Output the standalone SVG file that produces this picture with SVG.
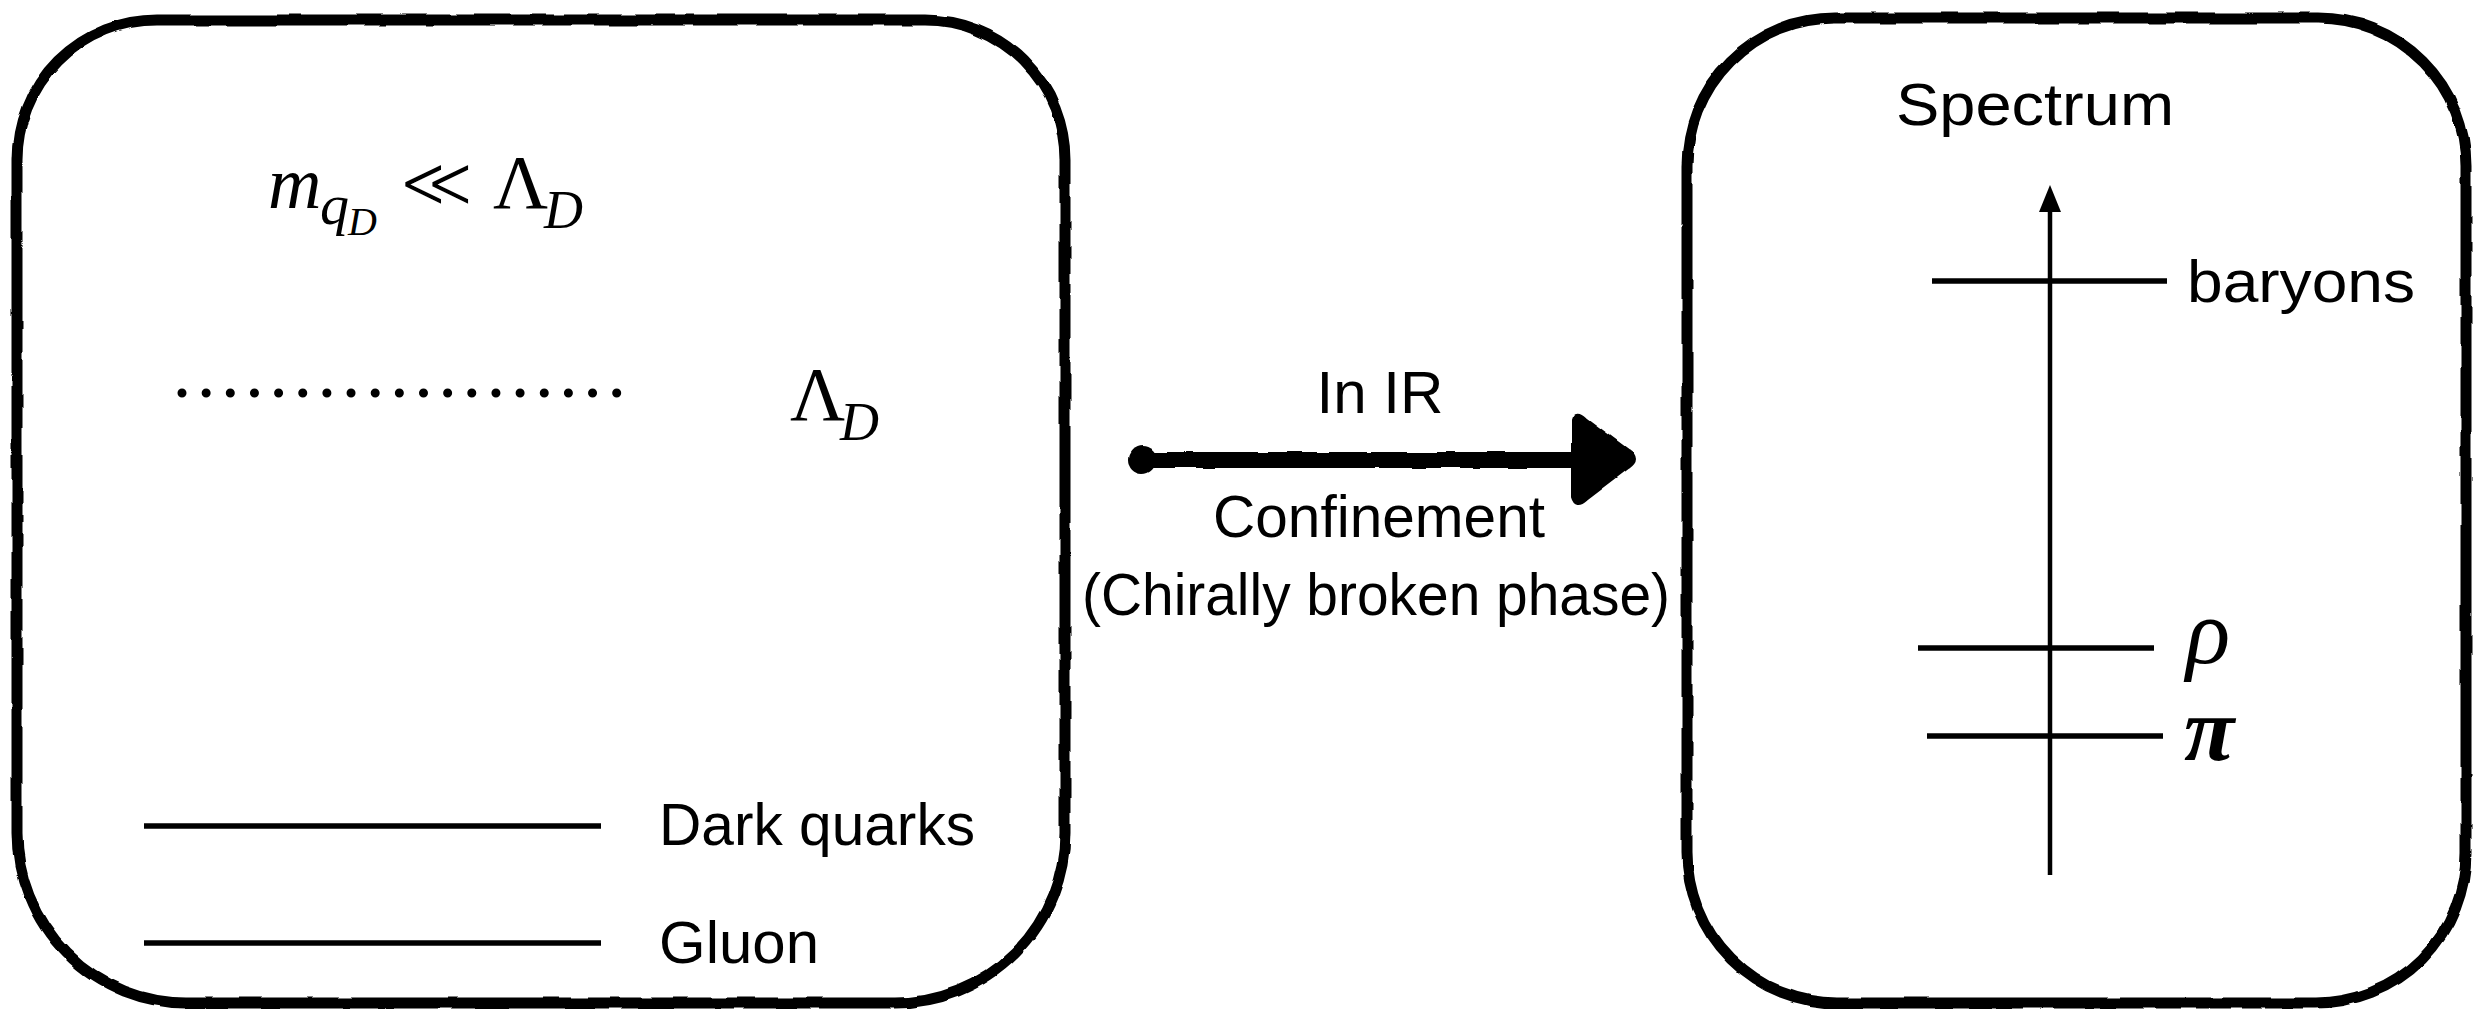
<svg xmlns="http://www.w3.org/2000/svg" width="2476" height="1009" viewBox="0 0 2476 1009">
  <style>
    .box { fill: none; stroke: #000; stroke-width: 11; stroke-linejoin: round; }
    .lvl { stroke: #000; stroke-width: 5.5; }
    .sans { font-family: "Liberation Sans", Arial, sans-serif; font-size: 60px; fill: #000; }
    .math { font-family: "Liberation Serif", "DejaVu Serif", serif; fill: #000; }
    .it { font-style: italic; }
  </style>
  <defs>
    <filter id="rough" x="-5%" y="-5%" width="110%" height="110%">
      <feTurbulence type="fractalNoise" baseFrequency="0.03" numOctaves="2" seed="3" result="n"/>
      <feDisplacementMap in="SourceGraphic" in2="n" scale="4" xChannelSelector="R" yChannelSelector="G"/>
    </filter>
  </defs>
  <rect width="2476" height="1009" fill="#fff"/>

  <g id="box-uv">
    <path class="box" filter="url(#rough)" d="M157,20 L925,20 A140,140 0 0 1 1065,160 L1065,833 A170,170 0 0 1 895,1003 L187,1003 A170,170 0 0 1 17,833 L17,160 A140,140 0 0 1 157,20 Z"/>
    <text class="math it" x="268" y="208" font-size="74">m</text>
    <text class="math it" x="320" y="224" font-size="58">q</text>
    <text class="math it" x="348" y="235" font-size="40">D</text>
    <text class="math" x="399" y="207" font-size="72" font-family="DejaVu Serif, serif" stroke="#fff" stroke-width="2.2">≪</text>
    <text class="math" x="493" y="208" font-size="76">Λ</text>
    <text class="math it" x="544" y="228" font-size="54">D</text>
    <line x1="182" y1="393" x2="620" y2="393" stroke="#000" stroke-width="9" stroke-linecap="round" stroke-dasharray="0 24.15"/>
    <text class="math" x="790" y="420" font-size="76">Λ</text>
    <text class="math it" x="840" y="440" font-size="54">D</text>
    <line class="lvl" x1="144" y1="826" x2="601" y2="826"/>
    <text class="sans" x="659" y="845" textLength="316" lengthAdjust="spacingAndGlyphs">Dark quarks</text>
    <line class="lvl" x1="144" y1="943" x2="601" y2="943"/>
    <text class="sans" x="659" y="963" textLength="160" lengthAdjust="spacingAndGlyphs">Gluon</text>
  </g>

  <g id="connectors">
    <g filter="url(#rough)">
      <circle cx="1142" cy="460" r="14" fill="#000"/>
      <line x1="1142" y1="460" x2="1580" y2="460" stroke="#000" stroke-width="16"/>
      <path d="M1573,420 Q1576,410 1585,419 L1628,451 Q1640,459 1628,467 L1586,499 Q1576,508 1573,497 Z" fill="#000" stroke="#000" stroke-width="4" stroke-linejoin="round"/>
    </g>
    <text class="sans" x="1380" y="413" text-anchor="middle" textLength="127" lengthAdjust="spacingAndGlyphs">In IR</text>
    <text class="sans" x="1379" y="537" text-anchor="middle" textLength="332" lengthAdjust="spacingAndGlyphs">Confinement</text>
    <text class="sans" x="1376" y="615" text-anchor="middle" textLength="588" lengthAdjust="spacingAndGlyphs">(Chirally broken phase)</text>
  </g>

  <g id="box-ir">
    <path class="box" filter="url(#rough)" d="M1835,18 L2318,18 A148,148 0 0 1 2466,166 L2466,853 A150,150 0 0 1 2316,1003 L1837,1003 A150,150 0 0 1 1687,853 L1687,166 A148,148 0 0 1 1835,18 Z"/>
    <text class="sans" x="1896" y="125" textLength="278" lengthAdjust="spacingAndGlyphs">Spectrum</text>
    <line x1="2050" y1="875" x2="2050" y2="208" stroke="#000" stroke-width="4.5"/>
    <polygon points="2050,185 2039,212 2061,212" fill="#000"/>
    <line class="lvl" x1="1932" y1="281" x2="2167" y2="281"/>
    <text class="sans" x="2187" y="302" textLength="228" lengthAdjust="spacingAndGlyphs">baryons</text>
    <line class="lvl" x1="1918" y1="648" x2="2154" y2="648"/>
    <text class="math it" x="2186" y="663" font-size="92">ρ</text>
    <line class="lvl" x1="1927" y1="736" x2="2163" y2="736"/>
    <text class="math it" x="2184" y="760" font-size="92" font-weight="bold">π</text>
  </g>
</svg>
